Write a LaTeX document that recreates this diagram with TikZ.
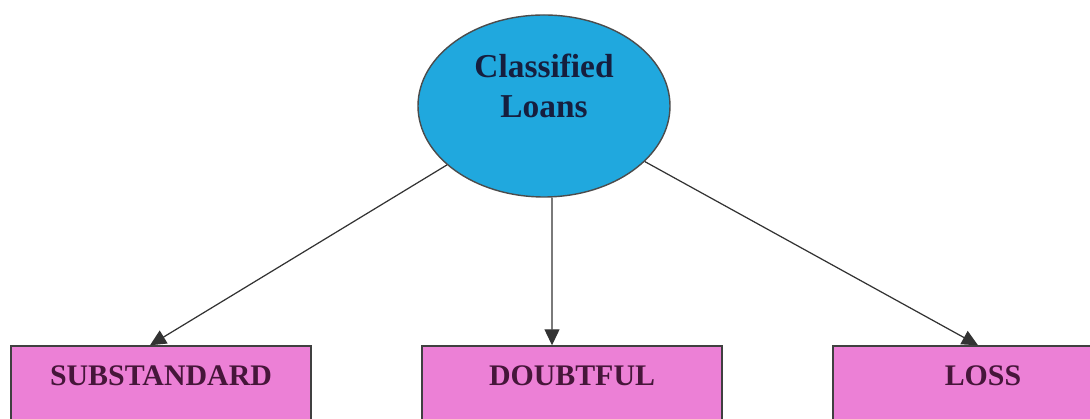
\documentclass[tikz,border=0pt]{standalone}
\usepackage{fontspec}
\setmainfont{Liberation Serif}
\usepackage{xcolor}
\usetikzlibrary{arrows.meta,positioning,shapes.geometric}

\definecolor{loanblue}{RGB}{32,168,222}
\definecolor{classpink}{RGB}{236,128,214}
\definecolor{navytext}{RGB}{22,30,62}
\definecolor{plumtext}{RGB}{70,22,58}

\begin{document}
\begin{tikzpicture}[
    >={Triangle[length=0.32cm,width=0.3cm]},
    every node/.style={font=\bfseries},
    loan/.style={ellipse, draw=black!70, thick, fill=loanblue, minimum width=5.04cm, minimum height=3.64cm, inner sep=0pt, align=center, text=navytext, text depth=0.8cm, font=\bfseries\fontsize{19}{23}\selectfont},
    class/.style={draw=black!75, thick, fill=classpink, minimum width=6.0cm, minimum height=1.5cm, text=plumtext, text height=0.40cm, text depth=0.30cm, font=\bfseries\fontsize{17}{20}\selectfont},
    link/.style={->, draw=black!80, line width=0.7pt}
]
\clip (0,0) rectangle (21.8,8.38);

\node[loan] (loans) at (10.88,6.26) {Classified\\Loans};

\node[class] (sub) at (3.22,0.71) {SUBSTANDARD};
\node[class] (doubt) at (11.44,0.71) {DOUBTFUL};
\node[class] (loss) at (19.66,0.71) {LOSS};

\draw[link] (loans) -- ([xshift=-0.22cm]sub.north);
\draw[link] ([xshift=0.16cm]loans.south) -- ([xshift=-0.40cm]doubt.north);
\draw[link] (loans) -- ([xshift=-0.10cm]loss.north);

\end{tikzpicture}
\end{document}
